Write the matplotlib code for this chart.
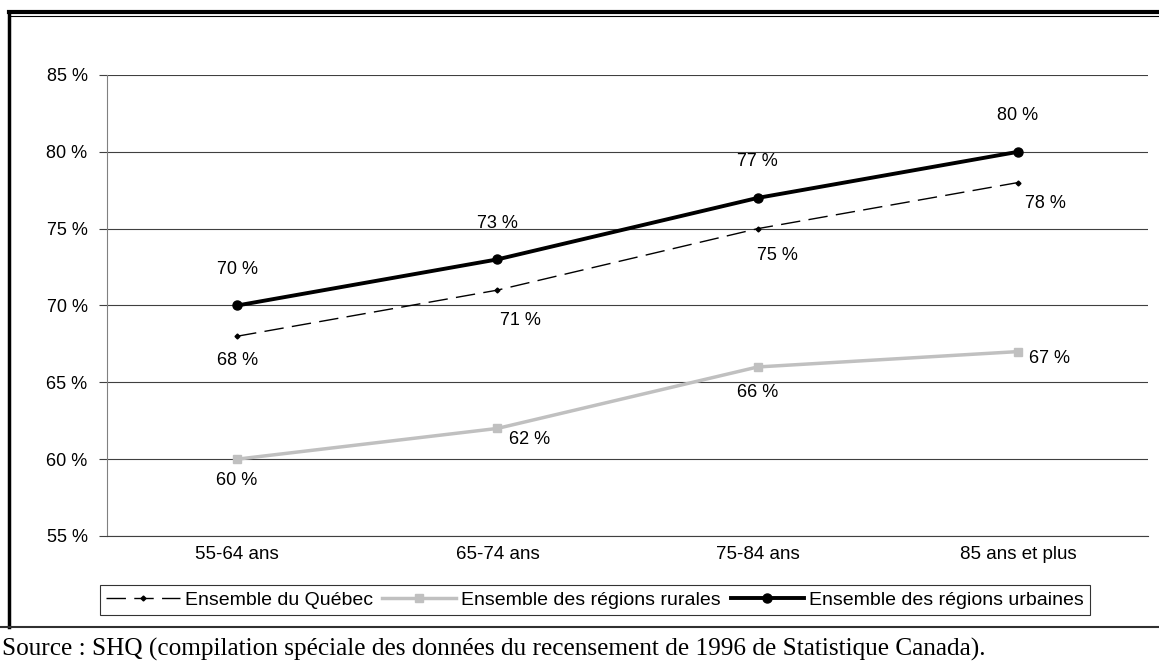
import matplotlib.pyplot as plt
from matplotlib.lines import Line2D

categories = ['55-64 ans', '65-74 ans', '75-84 ans', '85 ans et plus']
quebec = [68, 71, 75, 78]
rurales = [60, 62, 66, 67]
urbaines = [70, 73, 77, 80]

plt.rcParams['font.family'] = ['Liberation Sans', 'DejaVu Sans']

fig = plt.figure(figsize=(11.59, 6.66), dpi=100)
W, H = 1159, 666
ax = fig.add_axes([107 / W, 1 - 536 / H, (1148 - 107) / W, (536 - 75) / H])

x = range(len(categories))
ax.plot(x, quebec, color='black', lw=1, dashes=(14, 6), marker='D', ms=2.5,
        label='Ensemble du Québec')
ax.plot(x, rurales, color='#c0c0c0', lw=2.5, marker='s', ms=6,
        label='Ensemble des régions rurales')
ax.plot(x, urbaines, color='black', lw=2.8, marker='o', ms=6.5,
        label='Ensemble des régions urbaines')

# data labels
def lab(xi, v, dx, dy):
    ax.annotate(f'{v} %', (xi, v), xytext=(dx, dy), textcoords='offset pixels',
                ha='center', va='center', fontsize=13)

for i, v in enumerate(urbaines):
    lab(i, v, 0, 36)
for i, v, d in zip(x, quebec, [(0, -24), (23, -30), (20, -27), (28, -21)]):
    lab(i, v, *d)
for i, v, d in zip(x, rurales, [(0, -21), (32, -11), (0, -26), (32, -7)]):
    lab(i, v, *d)

ax.set_xlim(-0.5, 3.5)
ax.set_ylim(55, 85)
ax.set_yticks(range(55, 86, 5))
ax.set_yticklabels([f'{t} %' for t in range(55, 86, 5)])
ax.set_xticks(list(x))
ax.set_xticklabels(categories)
ax.tick_params(axis='x', length=0, pad=7, labelsize=13.5)
ax.tick_params(axis='y', length=6, width=0.8, color='#404040', pad=8, labelsize=13)
ax.grid(axis='y', color='#404040', lw=0.8)
ax.set_axisbelow(True)
for s in ['top', 'right']:
    ax.spines[s].set_visible(False)
ax.spines['left'].set_color('#808080')
ax.spines['bottom'].set_color('#404040')

leg = fig.legend(loc='center', bbox_to_anchor=(595 / W, 1 - 600 / H), ncol=3,
                 frameon=True, fancybox=False, edgecolor='black', fontsize=14,
                 handlelength=3.8, handletextpad=0.25, columnspacing=0.5,
                 borderpad=0.3)
leg.get_frame().set_linewidth(0.8)

# outer frame
fig.add_artist(Line2D([9 / W, 1], [1 - 12 / H] * 2, color='black', lw=3))
fig.add_artist(Line2D([11 / W, 1], [1 - 15.5 / H] * 2, color='black', lw=0.8))
fig.add_artist(Line2D([9 / W] * 2, [1 - 12 / H, 1 - 627 / H], color='black', lw=2.5))
fig.add_artist(Line2D([0, 1], [1 - 627 / H] * 2, color='#303030', lw=1.5))

fig.text(2 / W, 1 - 649 / H,
         'Source : SHQ (compilation spéciale des données du recensement de 1996 de Statistique Canada).',
         family='Liberation Serif', fontsize=18.2, va='center', ha='left')

fig.savefig('out.png', dpi=100)
